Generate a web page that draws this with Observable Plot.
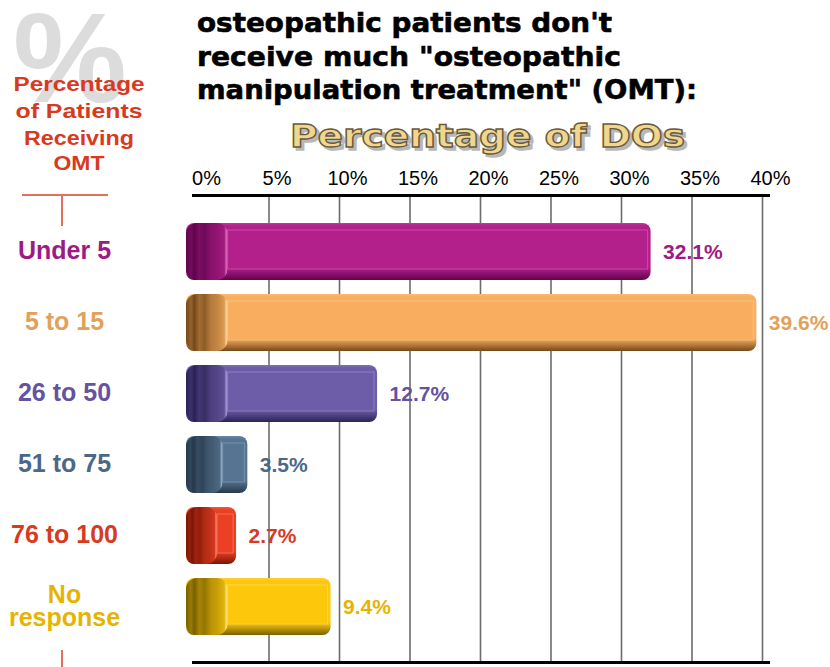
<!DOCTYPE html>
<html><head><meta charset="utf-8">
<script src="https://cdn.jsdelivr.net/npm/d3@7"></script>
<script src="https://cdn.jsdelivr.net/npm/@observablehq/plot@0.6"></script>
<style>
body{margin:0;background:#fff;}
#wrap{position:relative;width:830px;height:667px;overflow:hidden;background:#fff;}
#wrap > svg{position:absolute;left:0;top:0;}
</style></head><body>
<div id="wrap"></div>
<script>
// ---- data ----
const categories = ["Under 5", "5 to 15", "26 to 50", "51 to 75", "76 to 100", "No response"];
const categoryLabels = ["Under 5", "5 to 15", "26 to 50", "51 to 75", "76 to 100", "No\nresponse"];
const values = [32.1, 39.6, 12.7, 3.5, 2.7, 9.4];
const valueLabels = ["32.1%", "39.6%", "12.7%", "3.5%", "2.7%", "9.4%"];
const tickValues = [0, 5, 10, 15, 20, 25, 30, 35, 40];
const gridValues = [5, 10, 15, 20, 25, 30, 35, 40];
const titleLines = ["osteopathic patients don't", "receive much \"osteopathic", "manipulation treatment\" (OMT):"];
const sideTitleLines = ["Percentage", "of Patients", "Receiving", "OMT"];
const axisTitle = "Percentage of DOs";

// ---- colours ----
const mainColors  = ["#b31f8b", "#f8ae5e", "#6d5ca8", "#567592", "#ec4024", "#fdc80c"];
const darkColors  = ["#5e044c", "#74481a", "#2c2256", "#26384a", "#7a1505", "#786000"];
const lightColors = ["#d86ab8", "#fcd39f", "#a396d2", "#8fa9c0", "#f78c74", "#fee27a"];
const textColors  = ["#9d1b83", "#e2a15a", "#6552a0", "#4b6887", "#d83a1e", "#e6b400"];

// gradient defs
const defs = d3.select("body").append("svg").attr("width", 0).attr("height", 0)
  .style("position", "absolute").append("defs");
mainColors.forEach((m, i) => {
  const dk = darkColors[i], lt = lightColors[i];
  const mix = (a, b, t) => d3.interpolateRgb(a, b)(t);
  const body = defs.append("linearGradient").attr("id", "body" + i)
    .attr("x1", 0).attr("y1", 0).attr("x2", 0).attr("y2", 1);
  [[0, mix(m, lt, 0.35)], [0.05, m], [0.78, m], [0.86, mix(m, dk, 0.35)], [1, dk]]
    .forEach(([o, c]) => body.append("stop").attr("offset", o).attr("stop-color", c));
  const cap = defs.append("linearGradient").attr("id", "cap" + i)
    .attr("x1", 0).attr("y1", 0).attr("x2", 1).attr("y2", 0);
  [[0, dk], [0.12, mix(dk, m, 0.25)], [0.2, dk], [0.32, mix(dk, m, 0.35)], [0.45, mix(dk, m, 0.2)],
   [0.6, mix(dk, m, 0.5)], [0.75, mix(dk, m, 0.6)], [0.92, mix(dk, m, 0.8)], [0.97, lt], [1, m]]
    .forEach(([o, c]) => cap.append("stop").attr("offset", o).attr("stop-color", c));
});

const data = categories.map((c, i) => ({
  cat: c, label: categoryLabels[i], value: values[i], vlabel: valueLabels[i],
  body: `url(#body${i})`, cap: `url(#cap${i})`, light: lightColors[i], text: textColors[i],
  capEnd: Math.min(2.1, values[i] * 0.5)
}));

const chart = Plot.plot({
  width: 830, height: 667,
  marginLeft: 193, marginRight: 62, marginTop: 195, marginBottom: 5,
  x: {domain: [0, 40], range: [198, 762], axis: null},
  y: {domain: categories, range: [195, 662], paddingInner: 0.2, paddingOuter: 0.37, axis: null},
  color: {type: "identity"},
  style: {fontFamily: "Liberation Sans", background: "transparent", overflow: "visible"},
  marks: [
    Plot.ruleX(gridValues, {stroke: "#6c6c6c", strokeWidth: 1.6}),
    Plot.frame({anchor: "top", stroke: "#000", strokeWidth: 3}),
    Plot.frame({anchor: "bottom", stroke: "#000", strokeWidth: 3}),
    Plot.axisX(tickValues, {anchor: "top", tickSize: 0, tickPadding: 11, tickFormat: d => d + "%",
      fontSize: 20, fontFamily: "Liberation Sans", fill: "#000", dx: 8}),
    Plot.barX(data, {x1: 0, x2: "value", y: "cat", insetLeft: -12, rx: 8, fill: "body"}),
    Plot.barX(data, {x1: 0, x2: "capEnd", y: "cat", insetLeft: -12, rx: 11, fill: "cap"}),
    Plot.barX(data, {x1: "capEnd", x2: "value", y: "cat", insetTop: 7, insetBottom: 11, insetRight: 3,
      fill: "none", stroke: "light", strokeOpacity: 0.6, strokeWidth: 1}),
    Plot.text(data, {x: "value", y: "cat", text: "vlabel", dx: 12, textAnchor: "start", fill: "text",
      fontSize: 21, fontWeight: "bold", fontFamily: "Liberation Sans"}),
    Plot.text(data, {y: "cat", text: "label", frameAnchor: "left", dx: 64 - 193, textAnchor: "middle",
      fill: "text", fontSize: 25, fontWeight: "bold", fontFamily: "Liberation Sans", lineHeight: 0.92})
  ]
});
document.getElementById("wrap").appendChild(chart);

// ---- decorations (titles, side heading) ----
const ov = d3.select("#wrap").append("svg").attr("width", 830).attr("height", 667)
  .style("pointer-events", "none");
ov.append("text").attr("x", 70).attr("y", 102).attr("text-anchor", "middle")
  .attr("font-family", "Liberation Sans").attr("font-weight", "bold").attr("font-size", 128)
  .attr("fill", "#dcdcdc").text("%");
const sideX = 79, sideY = [91, 118, 145, 170], sideW = [131, 127, 110, 51];
sideTitleLines.forEach((t, i) => ov.append("text").attr("x", sideX).attr("y", sideY[i])
  .attr("text-anchor", "middle").attr("font-family", "Liberation Sans").attr("font-weight", "bold")
  .attr("font-size", 20.5).attr("fill", "#d83a1e")
  .attr("textLength", sideW[i]).attr("lengthAdjust", "spacingAndGlyphs").text(t));
const red = "#e2705e";
ov.append("line").attr("x1", 22).attr("x2", 108).attr("y1", 195).attr("y2", 195).attr("stroke", red).attr("stroke-width", 2);
ov.append("line").attr("x1", 62).attr("x2", 62).attr("y1", 195).attr("y2", 226).attr("stroke", red).attr("stroke-width", 2);
ov.append("line").attr("x1", 62).attr("x2", 62).attr("y1", 650).attr("y2", 667).attr("stroke", red).attr("stroke-width", 2);
const tY = [32, 65.5, 99], tW = [415, 424, 500];
titleLines.forEach((t, i) => ov.append("text").attr("x", 197).attr("y", tY[i])
  .attr("font-family", "DejaVu Sans").attr("font-weight", "bold").attr("font-size", 27)
  .attr("fill", "#000").attr("stroke", "#000").attr("stroke-width", 0.6)
  .attr("textLength", tW[i]).attr("lengthAdjust", "spacingAndGlyphs").text(t));
const at = (dx, dy) => ov.append("text").attr("x", 290 + dx).attr("y", 147 + dy)
  .attr("font-family", "DejaVu Sans").attr("font-weight", "bold").attr("font-size", 32)
  .attr("textLength", 395).attr("lengthAdjust", "spacingAndGlyphs").text(axisTitle);
at(3, 3).attr("fill", "#b8b8b8").attr("stroke", "#b8b8b8").attr("stroke-width", 1.5);
at(0, 0).attr("fill", "#f1d68d").attr("stroke", "#6a5a3c").attr("stroke-width", 1.3);
</script>
</body></html>
